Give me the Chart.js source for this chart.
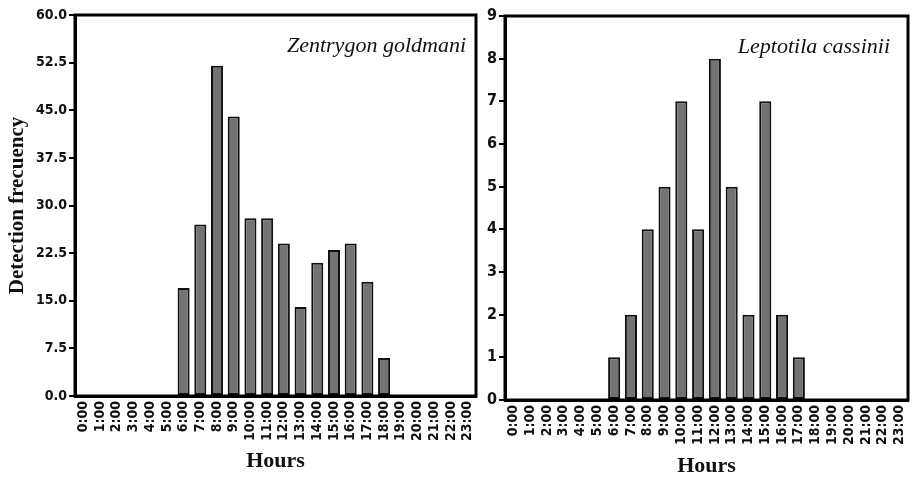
<!DOCTYPE html>
<html>
<head>
<meta charset="utf-8">
<script src="https://cdn.jsdelivr.net/npm/chart.js@4.4.1/dist/chart.umd.min.js"></script>
<style>
  html, body { margin:0; padding:0; background:#fff; }
  #wrap { position:relative; width:912px; height:477px; overflow:hidden; }
  canvas { position:absolute; top:0; }
</style>
</head>
<body>
<div id="wrap">
  <canvas id="c1" width="482" height="477" style="left:0"></canvas>
  <canvas id="c2" width="430" height="477" style="left:482px"></canvas>
</div>
<script>
// ---- Data ----
const hours = ["0:00","1:00","2:00","3:00","4:00","5:00","6:00","7:00","8:00","9:00","10:00","11:00",
               "12:00","13:00","14:00","15:00","16:00","17:00","18:00","19:00","20:00","21:00","22:00","23:00"];
const zentrygonGoldmani = [0,0,0,0,0,0,17,27,52,44,28,28,24,14,21,23,24,18,6,0,0,0,0,0];
const leptotilaCassinii = [0,0,0,0,0,0,1,2,4,5,7,4,8,5,2,7,2,1,0,0,0,0,0,0];
const leftTicks = [0,7.5,15,22.5,30,37.5,45,52.5,60];
const rightTicks = [0,1,2,3,4,5,6,7,8,9];
const speciesLeft = "Zentrygon goldmani";
const speciesRight = "Leptotila cassinii";
const yTitle = "Detection frecuency";
const xTitle = "Hours";

const sansBold = "'DejaVu Sans Condensed','Liberation Sans Narrow','DejaVu Sans',sans-serif";
const serif = "'Liberation Serif','DejaVu Serif',serif";

function framePlugin(name, inset) {
  return {
    id: 'frame',
    afterDatasetsDraw(chart) {
      const a = chart.chartArea, ctx = chart.ctx;
      ctx.save();
      ctx.strokeStyle = '#000';
      ctx.lineWidth = 3;
      ctx.strokeRect(a.left, a.top, a.right - a.left, a.bottom - a.top);
      ctx.fillStyle = '#111';
      ctx.font = "italic 22px " + serif;
      ctx.textAlign = 'right';
      ctx.textBaseline = 'alphabetic';
      ctx.fillText(name, a.right - inset, a.top + 37);
      ctx.restore();
    }
  };
}

function makeChart(id, data, ticks, opts) {
  return new Chart(document.getElementById(id), {
    type: 'bar',
    data: {
      labels: hours,
      datasets: [{
        data: data,
        backgroundColor: '#737373',
        borderColor: '#111',
        borderWidth: 2,
        borderSkipped: false,
        barPercentage: 0.72,
        categoryPercentage: 1.0
      }]
    },
    options: {
      responsive: false,
      animation: false,
      events: [],
      layout: { padding: opts.padding },
      plugins: { legend: { display:false }, tooltip: { enabled:false } },
      scales: {
        x: {
          grid: { display:false, drawTicks:false },
          border: { display:true, color:'#000', width:3 },
          ticks: {
            autoSkip:false, maxRotation:90, minRotation:90, padding:5,
            color:'#111', font: { family: sansBold, weight:'bold', size:14 }
          },
          title: {
            display:true, text: xTitle, color:'#111',
            font: { family: serif, weight:'bold', size:22, lineHeight: opts.xTitleLH },
            padding: { top:0, bottom: opts.xTitlePad }
          },
          afterFit(s) { s.height = opts.xHeight; s.paddingLeft = 0; s.paddingRight = 0; }
        },
        y: {
          min: 0, max: ticks[ticks.length-1],
          afterBuildTicks(s) { s.ticks = ticks.map(v => ({ value: v })); },
          grid: { drawOnChartArea:false, drawTicks:true, tickLength:6, color:'#000', lineWidth:2 },
          border: { display:true, color:'#000', width:3 },
          ticks: {
            padding:2, color:'#111',
            font: { family: sansBold, weight:'bold', size: opts.yFont },
            callback: opts.fmt
          },
          title: opts.yTitle ? {
            display:true, text: yTitle, color:'#111',
            font: { family: serif, weight:'bold', size:21 },
            padding: { top:5, bottom:0 }
          } : { display:false },
          afterFit(s) { s.width = opts.yWidth; s.paddingTop = 0; s.paddingBottom = 0; }
        }
      }
    },
    plugins: [framePlugin(opts.name, opts.inset)]
  });
}

makeChart('c1', zentrygonGoldmani, leftTicks, {
  padding: { left:0, top:15, right:6, bottom:0 },
  xHeight: 81, yWidth: 75, yFont: 14, xTitlePad: 2, xTitleLH: 1.2,
  fmt: v => Number(v).toFixed(1), yTitle: true, name: speciesLeft, inset: 10
});
makeChart('c2', leptotilaCassinii, rightTicks, {
  padding: { left:0, top:16, right:4, bottom:0 },
  xHeight: 77, yWidth: 23, yFont: 16, xTitlePad: 0, xTitleLH: 1.0,
  fmt: v => String(v), yTitle: false, name: speciesRight, inset: 18
});
</script>
</body>
</html>
